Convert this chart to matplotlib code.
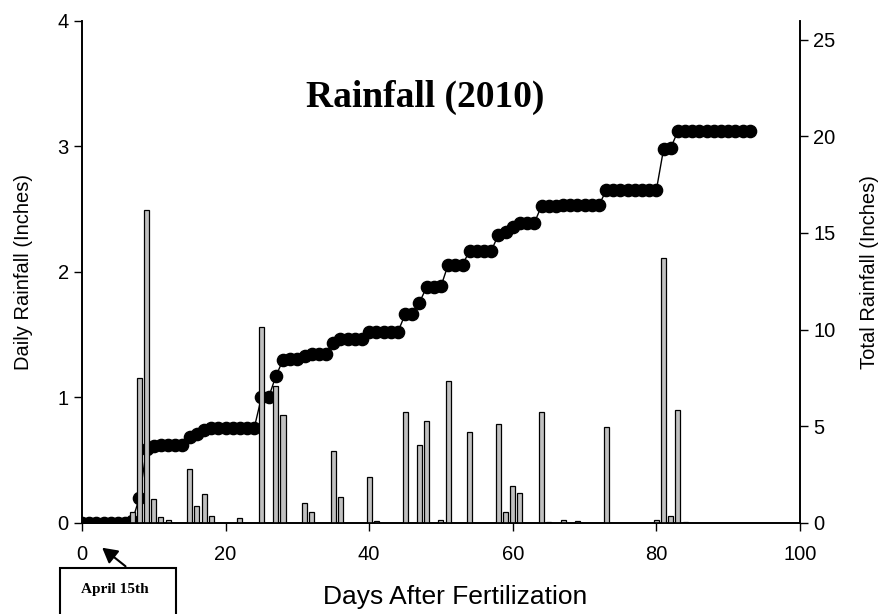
import numpy as np
import matplotlib
matplotlib.use('Agg')
import matplotlib.pyplot as plt
from matplotlib.patches import Rectangle

plt.rcParams['font.family'] = ['Liberation Sans', 'DejaVu Sans']

# Daily rainfall (inches) on days with rain
rain_days = [7, 8, 9, 10, 11, 12, 15, 16, 17, 18, 22, 25, 27, 28, 31, 32, 35, 36,
             40, 41, 45, 47, 48, 50, 51, 54, 58, 59, 60, 61, 64, 65, 67, 69, 73,
             80, 81, 82, 83, 84]
rain_daily = [0.085, 1.15, 2.49, 0.19, 0.045, 0.025, 0.425, 0.13, 0.225, 0.055,
              0.035, 1.56, 1.09, 0.86, 0.155, 0.085, 0.575, 0.205, 0.365, 0.015,
              0.885, 0.62, 0.81, 0.025, 1.13, 0.72, 0.79, 0.085, 0.29, 0.235,
              0.885, 0.005, 0.025, 0.015, 0.76, 0.025, 2.11, 0.055, 0.90, 0.005]

# Total rainfall (inches), one point per day from day 0 to day 93
total_days = list(range(94))
total_rain = [0, 0, 0, 0, 0, 0, 0, 0.08, 1.3, 3.82,
              3.95, 4.0, 4.03, 4.03, 4.03, 4.45, 4.6, 4.82, 4.88, 4.88,
              4.88, 4.88, 4.92, 4.92, 4.92, 6.5, 6.5, 7.58, 8.43, 8.45,
              8.45, 8.63, 8.72, 8.72, 8.72, 9.3, 9.52, 9.52, 9.52, 9.52,
              9.87, 9.88, 9.88, 9.88, 9.88, 10.78, 10.78, 11.4, 12.2, 12.2,
              12.24, 13.36, 13.36, 13.36, 14.08, 14.08, 14.08, 14.08, 14.9, 15.05,
              15.32, 15.52, 15.52, 15.52, 16.4, 16.41, 16.41, 16.43, 16.43, 16.44,
              16.44, 16.44, 16.44, 17.2, 17.2, 17.2, 17.2, 17.2, 17.2, 17.2,
              17.23, 19.34, 19.4, 20.28, 20.29, 20.29, 20.29, 20.29, 20.29, 20.29,
              20.29, 20.29, 20.29, 20.29]

fig = plt.figure(figsize=(8.88, 6.14), dpi=100)
ax = fig.add_axes([0.0923, 0.1487, 0.8086, 0.8179])
ax2 = ax.twinx()

# bars in front of the cumulative line
ax.set_zorder(ax2.get_zorder() + 1)
ax.patch.set_visible(False)

ax.bar(rain_days, rain_daily, width=0.7, color='#c0c0c0', edgecolor='black',
       linewidth=0.9)
ax2.plot(total_days, total_rain, color='black', linewidth=1.0, marker='o',
         markersize=8.8, markerfacecolor='black', markeredgecolor='black')

ax.set_xlim(0, 100)
ax.set_ylim(0, 4)
ax2.set_ylim(0, 26)
ax.set_xticks(range(0, 101, 20))
ax.set_yticks([0, 1, 2, 3, 4])
ax2.set_yticks(range(0, 26, 5))

for a in (ax, ax2):
    a.tick_params(direction='out', length=6, width=1, labelsize=14.5)
    a.spines['top'].set_visible(False)
    for s in a.spines.values():
        s.set_linewidth(1.2)
ax.tick_params(axis='x', pad=10)

ax.set_xlabel('Days After Fertilization', fontsize=19)
ax.xaxis.set_label_coords(0.52, -0.125)
ax.set_ylabel('Daily Rainfall (Inches)', fontsize=14.5, labelpad=18)
ax2.set_ylabel('Total Rainfall (Inches)', fontsize=14.5, labelpad=18,
               rotation=90)

ax.text(0.478, 0.847, 'Rainfall (2010)', transform=ax.transAxes,
        ha='center', va='center', fontsize=27, fontweight='bold',
        family=['Liberation Serif', 'DejaVu Serif'])

# April 15th callout below the axis
fig.patches.append(Rectangle((60 / 888, -0.05), 116 / 888, (614 - 568) / 614 + 0.05,
                             transform=fig.transFigure, fill=False,
                             edgecolor='black', linewidth=1.5, clip_on=False))
fig.text(115 / 888, 1 - 589 / 614, 'April 15th', ha='center', va='center',
         fontsize=11, fontweight='bold', family=['Liberation Serif', 'DejaVu Serif'])
ax.annotate('', xy=(100 / 888, 1 - 546 / 614), xycoords='figure fraction',
            xytext=(127.7 / 888, 1 - 568 / 614), textcoords='figure fraction',
            arrowprops=dict(arrowstyle='-|>,head_length=0.9,head_width=0.5',
                            color='black', linewidth=1.5),
            annotation_clip=False)

fig.savefig('out.png', dpi=100)
